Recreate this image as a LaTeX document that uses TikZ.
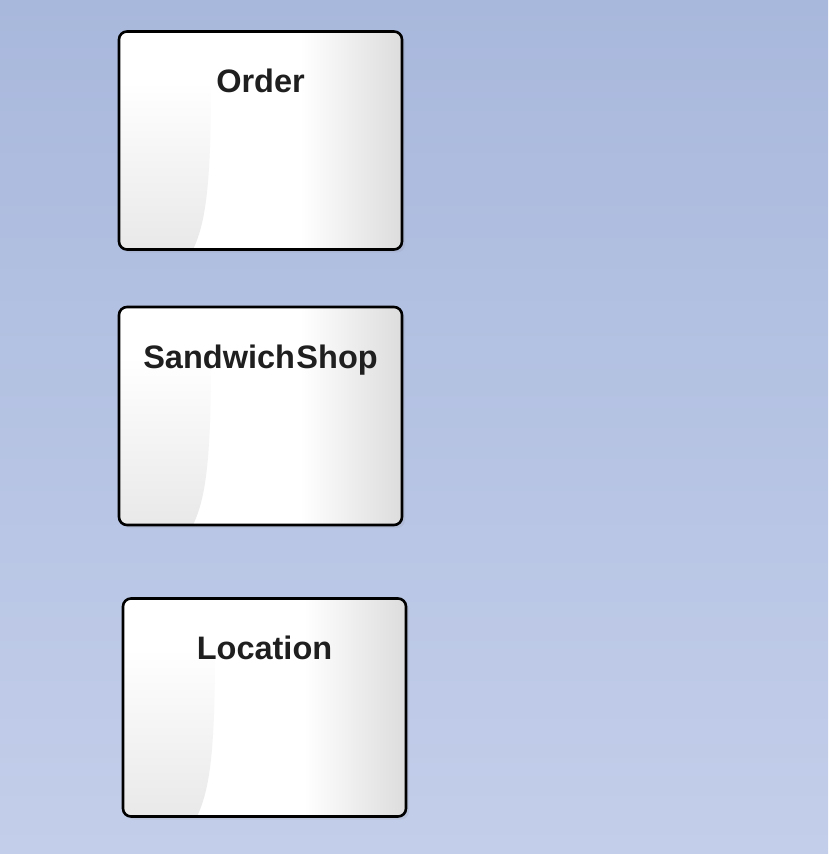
\documentclass[tikz,border=0pt]{standalone}
\usepackage{fontspec}
\setmainfont{Liberation Sans}
\usetikzlibrary{shadows,calc}
\definecolor{bgtop}{HTML}{A8B8DC}
\definecolor{bgbot}{HTML}{C3CEEA}
\pgfdeclarehorizontalshading{boxsheen}{100bp}{color(0bp)=(white); color(25bp)=(white);
  color(57bp)=(white); color(75bp)=(gray!27); color(100bp)=(gray!27)}

\begin{document}
\begin{tikzpicture}[x=1pt,y=-1pt,
  classbox/.style={draw=black,line width=2.6pt,rounded corners=8pt,
    minimum width=283pt,minimum height=218pt,inner xsep=0pt,inner ysep=0pt,
    text height=61pt,text depth=157pt,text=black!88,
    font=\fontsize{32.5}{36}\selectfont\bfseries,
    drop shadow={opacity=0.12,shadow xshift=3pt,shadow yshift=-3pt},
    path picture={
      \coordinate (nw) at (path picture bounding box.north west);
      \shade[shading=boxsheen] (path picture bounding box.south west) rectangle (path picture bounding box.north east);
      \shade[top color=white,bottom color=gray!18,rounded corners=0pt] ($(nw)+(0,50)$) -- ($(nw)+(0,222)$) -- ($(nw)+(72,222)$)
        .. controls ($(nw)+(86,195)$) and ($(nw)+(92,160)$) .. ($(nw)+(92,50)$) -- cycle;
    }}]
  \fill[top color=bgtop,bottom color=bgbot] (0,0) rectangle (828,854);
  \path (260.5,140.5) node[classbox] (order) {Order}
  (260.5,416) node[classbox] (shop) {Sandwich\hspace{1.5pt}Shop}
  (264.5,707.5) node[classbox] (location) {Location};
\end{tikzpicture}
\end{document}
